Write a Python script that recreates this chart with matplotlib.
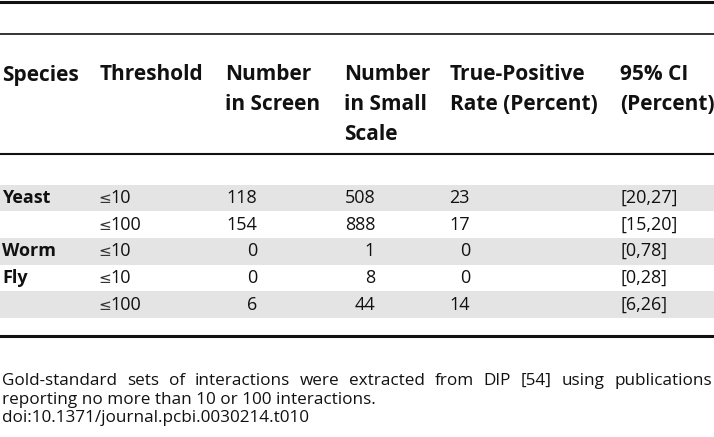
import matplotlib
matplotlib.use("Agg")
import matplotlib.pyplot as plt

species = ["Yeast", "", "Worm", "Fly", ""]
threshold = [10, 100, 10, 10, 100]
n_screen = [118, 154, 0, 0, 6]
n_small = [508, 888, 1, 8, 44]
tp_rate = [23, 17, 0, 0, 14]
ci = ["[20,27]", "[15,20]", "[0,78]", "[0,28]", "[6,26]"]

headers = [["Species"], ["Threshold"], ["Number", "in Screen"],
           ["Number", "in Small", "Scale"], ["True-Positive", "Rate (Percent)"],
           ["95% CI", "(Percent)"]]
footnote = ("Gold-standard sets of interactions were extracted from DIP [54] using publications",
            "reporting no more than 10 or 100 interactions.",
            "doi:10.1371/journal.pcbi.0030214.t010")

W, H = 714, 437
plt.rcParams['font.family'] = ['Open Sans', 'DejaVu Sans']
fig = plt.figure(figsize=(W / 100, H / 100), dpi=100)
ax = fig.add_axes([0, 0, 1, 1])
ax.set_xlim(0, W)
ax.set_ylim(H, 0)
ax.axis("off")

fs = 13
black = "#111111"

# rules
ax.axhline(1.5, color=black, lw=2.2)
ax.axhline(34, color=black, lw=1.2)
ax.axhline(154, color=black, lw=1.5)
ax.axhline(336, color=black, lw=2.2)

# header
head_x = [2, 100, 225, 344, 450, 620]
for x, lines in zip(head_x, headers):
    for k, t in enumerate(lines):
        ax.text(x, 75 + 30 * k, t, fontsize=15, fontweight="bold",
                ha="left", va="center", color=black)

# body rows
row_top = 184.5
row_h = 26.7
for i in range(len(species)):
    y0 = row_top + i * row_h
    if i % 2 == 0:
        ax.axhspan(y0, y0 + row_h, color="#e4e4e4", lw=0)
    yc = y0 + row_h / 2
    ax.text(2, yc, species[i], fontsize=fs, fontweight="bold", ha="left", va="center", color=black)
    ax.text(98.5, yc + 0.5, "≤", fontsize=11, family="DejaVu Sans", ha="left", va="center",
            color="#333333")
    ax.text(110.5, yc, str(threshold[i]), fontsize=fs, ha="left", va="center", color=black)
    ax.text(257, yc, str(n_screen[i]), fontsize=fs, ha="right", va="center", color=black)
    ax.text(375, yc, str(n_small[i]), fontsize=fs, ha="right", va="center", color=black)
    ax.text(470, yc, str(tp_rate[i]), fontsize=fs, ha="right", va="center", color=black)
    ax.text(620, yc, ci[i], fontsize=fs, ha="left", va="center", color=black)

# footnote, first line justified
fn = 12.3
fig.canvas.draw()
r = fig.canvas.get_renderer()
words = footnote[0].split()
arts = [ax.text(0, 381, w, fontsize=fn, ha="left", va="center", color=black) for w in words]
widths = [a.get_window_extent(r).width for a in arts]
left, right = 2, 712
gap = (right - left - sum(widths)) / (len(words) - 1)
x = left
for a, w in zip(arts, widths):
    a.set_x(x)
    x += w + gap
ax.text(2, 399.5, footnote[1], fontsize=fn, ha="left", va="center", color=black)
ax.text(2, 418, footnote[2], fontsize=fn, ha="left", va="center", color=black)

fig.savefig("out.png", dpi=100)
